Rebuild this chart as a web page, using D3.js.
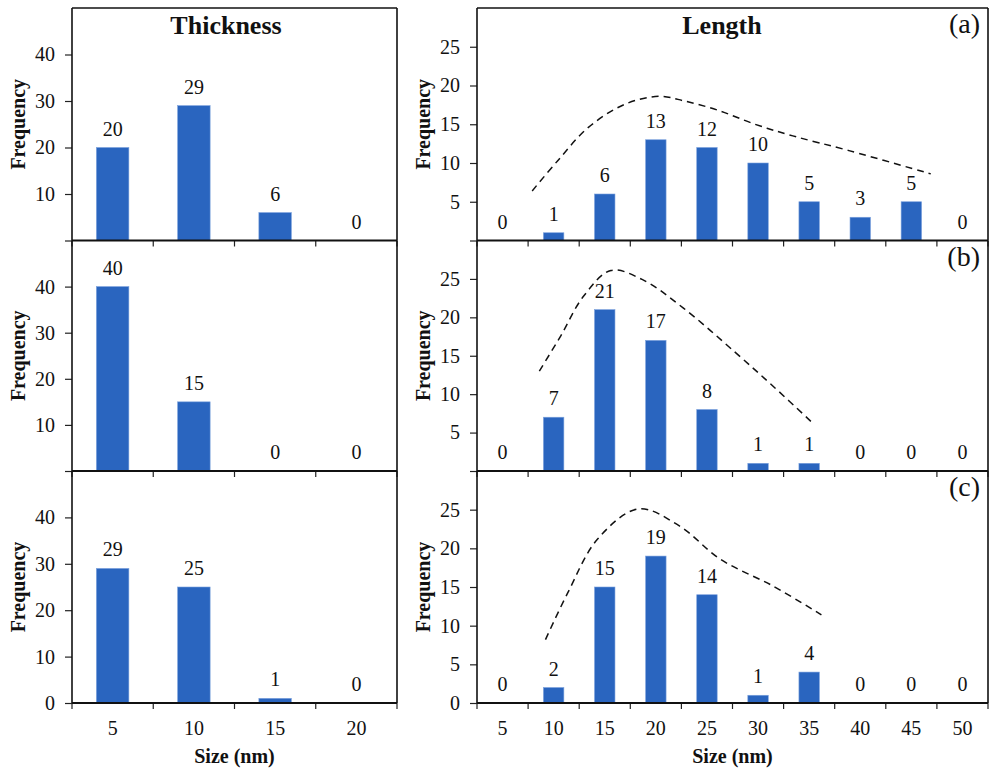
<!DOCTYPE html>
<html><head><meta charset="utf-8">
<script src="https://cdn.jsdelivr.net/npm/d3@7"></script>
<style>
html,body{margin:0;padding:0;background:#fff;}
</style></head>
<body><svg id="chart" width="992" height="774" font-family="Liberation Serif, Times New Roman, serif"></svg>
<script>
// ---- data ----
const thicknessCats = ["5","10","15","20"];
const lengthCats = ["5","10","15","20","25","30","35","40","45","50"];
const thicknessA = [20,29,6,0];
const thicknessB = [40,15,0,0];
const thicknessC = [29,25,1,0];
const lengthA = [0,1,6,13,12,10,5,3,5,0];
const lengthB = [0,7,21,17,8,1,1,0,0,0];
const lengthC = [0,2,15,19,14,1,4,0,0,0];
// fitted distribution curves (size nm, frequency)
const curveA = [[7.9,6.4],[10.4,10.3],[13.4,14.6],[17.0,17.6],[20.3,18.6],[22.8,18.0],[26.1,16.8],[29.7,15.0],[33.4,13.5],[38.9,11.6],[46.9,8.6]];
const curveB = [[8.6,13.0],[10.7,17.6],[12.9,22.7],[15.6,26.1],[18.7,24.9],[22.7,21.2],[27.8,15.4],[31.5,11.0],[35.3,6.3]];
const curveC = [[9.2,8.2],[11.4,14.3],[14.3,21.2],[18.3,25.1],[22.3,22.9],[26.3,18.6],[31.5,15.1],[36.2,11.4]];
const thicknessTicks = [0,10,20,30,40];
const lengthTicks = [0,5,10,15,20,25];
const panelTags = ["(a)","(b)","(c)"];

const FONT = "Liberation Serif";
const svg = d3.select("#chart");
const barColor = "#2a65bf";
const L = {x0:72, x1:397};
const R = {x0:477, x1:988};
const rows = [{y0:8,y1:240.5},{y0:240.5,y1:471},{y0:471,y1:703}];

function panel(box, row, cats, vals, yMax, yTicks, showZero, isLast, curve, tag){
  const g = svg.append("g");
  const x = d3.scaleBand().domain(cats).range([box.x0, box.x1]).paddingInner(0.6).paddingOuter(0.3);
  const xb = d3.scaleBand().domain(cats).range([box.x0, box.x1]);
  const y = d3.scaleLinear().domain([0, yMax]).range([row.y1, row.y0]);
  // bars
  g.selectAll("rect.bar").data(vals).join("rect")
    .attr("x",(d,i)=>x(cats[i])).attr("width",x.bandwidth())
    .attr("y",d=>y(d)).attr("height",d=>y(0)-y(d))
    .attr("fill",barColor).attr("stroke","#7aa0dc").attr("stroke-width",0.6);
  // value labels
  g.selectAll("text.val").data(vals).join("text")
    .attr("x",(d,i)=>xb(cats[i])+xb.bandwidth()/2).attr("y",d=>y(d)-12)
    .attr("text-anchor","middle").attr("font-family",FONT).attr("font-size",20).attr("fill","#111").text(d=>d);
  // curve
  if(curve){
    const xl = d3.scaleLinear().domain([+cats[0]-2.5, +cats[cats.length-1]+2.5]).range([box.x0, box.x1]);
    g.append("path").datum(curve)
      .attr("d", d3.line().x(d=>xl(d[0])).y(d=>y(d[1])).curve(d3.curveCatmullRom))
      .attr("fill","none").attr("stroke","#111").attr("stroke-width",1.5).attr("stroke-dasharray","7,5");
  }
  // y axis
  const ya = d3.axisLeft(y).tickValues(yTicks).tickSize(7).tickPadding(10)
    .tickFormat(d => (d===0 && !showZero) ? "" : d);
  const yg = g.append("g").attr("transform",`translate(${box.x0},0)`).call(ya);
  yg.attr("font-family",FONT).attr("font-size",20);
  yg.select(".domain").remove();
  yg.selectAll("line").attr("stroke","#222").attr("stroke-width",1.2);
  yg.selectAll("text").attr("fill","#111");
  // x labels & boundary ticks
  const xa = d3.axisBottom(xb).tickSize(0).tickFormat(isLast ? (d=>d) : (()=>"" )).tickPadding(18);
  const xg = g.append("g").attr("transform",`translate(0,${row.y1})`).call(xa);
  xg.attr("font-family",FONT).attr("font-size",20);
  xg.select(".domain").remove();
  xg.selectAll("text").attr("fill","#111");
  const bounds = cats.map(c=>xb(c)).concat([box.x1]);
  g.selectAll("line.bt").data(bounds).join("line")
    .attr("x1",d=>d).attr("x2",d=>d).attr("y1",row.y1).attr("y2",row.y1+6)
    .attr("stroke","#222").attr("stroke-width",1.2);
  // frame lines
  g.append("line").attr("x1",box.x0).attr("x2",box.x1).attr("y1",row.y1).attr("y2",row.y1)
    .attr("stroke","#111").attr("stroke-width",2);
  g.append("line").attr("x1",box.x0).attr("x2",box.x0).attr("y1",row.y0).attr("y2",row.y1)
    .attr("stroke","#111").attr("stroke-width",1.6);
  g.append("line").attr("x1",box.x1).attr("x2",box.x1).attr("y1",row.y0).attr("y2",row.y1)
    .attr("stroke","#111").attr("stroke-width",1.6);
  // y label
  const cy = (row.y0+row.y1)/2;
  g.append("text").attr("transform",`translate(${box.x0-47},${cy}) rotate(-90)`)
    .attr("text-anchor","middle").attr("font-family",FONT).attr("font-size",20).attr("font-weight","bold")
    .attr("fill","#111").text("Frequency");
  if(tag){
    g.append("text").attr("x",box.x1-8).attr("y",row.y0+25).attr("text-anchor","end")
      .attr("font-family",FONT).attr("font-size",28).attr("fill","#111").text(tag);
  }
}

const tVals=[thicknessA,thicknessB,thicknessC];
const lVals=[lengthA,lengthB,lengthC];
const curves=[curveA,curveB,curveC];
rows.forEach((row,i)=>{
  const last = i===2;
  panel(L,row,thicknessCats,tVals[i],50,thicknessTicks,last,last,null,null);
  panel(R,row,lengthCats,lVals[i],30,lengthTicks,last,last,curves[i],panelTags[i]);
});
// top frame
svg.append("line").attr("x1",L.x0).attr("x2",L.x1).attr("y1",rows[0].y0).attr("y2",rows[0].y0).attr("stroke","#111").attr("stroke-width",1.6);
svg.append("line").attr("x1",R.x0).attr("x2",R.x1).attr("y1",rows[0].y0).attr("y2",rows[0].y0).attr("stroke","#111").attr("stroke-width",1.6);
// titles
function title(x,y,txt,size){
  svg.append("text").attr("x",x).attr("y",y).attr("text-anchor","middle")
    .attr("font-family",FONT).attr("font-size",size).attr("font-weight","bold").attr("fill","#111").text(txt);
}
title(226, 34, "Thickness", 26);
title(722, 34, "Length", 26);
title((L.x0+L.x1)/2, 763, "Size (nm)", 20);
title((R.x0+R.x1)/2, 763, "Size (nm)", 20);
</script></body></html>
